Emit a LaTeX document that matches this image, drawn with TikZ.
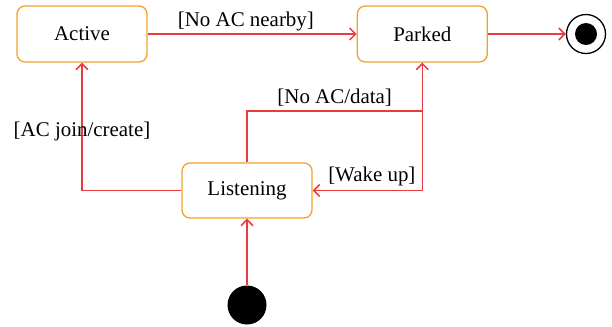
\documentclass[tikz,border=0pt]{standalone}
\usepackage{fontspec}
\setmainfont{Liberation Serif}
\usepackage{tikz}
\usetikzlibrary{arrows.meta, positioning, calc}

\definecolor{boxorange}{RGB}{245,160,40}
\definecolor{linered}{RGB}{232,60,64}

\begin{document}
\begin{tikzpicture}[x=1bp, y=-1bp, line width=1.5bp,
    font=\fontsize{21}{24}\selectfont,
    statebox/.style={rectangle, rounded corners=8bp, draw=boxorange, line width=1.3bp, minimum width=130bp, minimum height=56bp},
    trans/.style={color=linered, line width=1.5bp, -{Straight Barb[length=6bp, width=12bp]}},
    guard/.style={text=black}]
  \useasboundingbox (0,0) rectangle (612,326);

  \node[statebox] at (82, 34) (active) {Active};
  \node[statebox, right=209bp of active] (parked) {Parked};
  \node[statebox, minimum height=55bp] at (247, 190.5) (listening) {Listening};

  \node[circle, fill=black, minimum size=39bp, inner sep=0pt] at (247, 305) (init) {};
  \node[circle, draw=black, line width=1.3bp, minimum size=39bp, inner sep=0pt] at (586, 34) (final) {};
  \node[circle, fill=black, minimum size=22bp, inner sep=0pt] at (final) (finaldot) {};

  \draw[trans] (active) -- node[guard, above, pos=0.47, yshift=-1bp] {[No AC nearby]} (parked);
  \draw[trans] (parked) -- (final);
  \draw[trans] (listening.west) -| node[guard, pos=0.73] {[AC join/create]} (active.south);
  \draw[trans] (listening.north) -- ++(0,-51.5) -| node[guard, above, pos=0.25] {[No AC/data]} (parked.south);
  \draw[trans] (parked.south) |- node[guard, above, pos=0.73] {[Wake up]} (listening.east);
  \draw[trans] (init) -- (listening);
\end{tikzpicture}
\end{document}
